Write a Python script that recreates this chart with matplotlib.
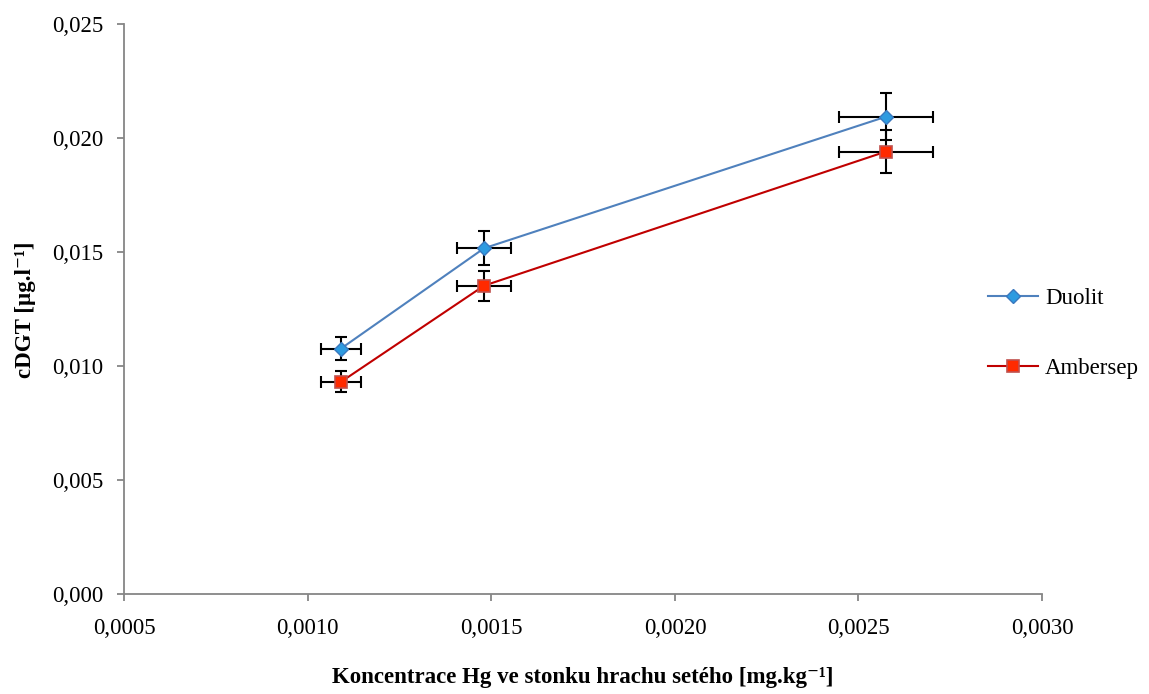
import numpy as np
import matplotlib
matplotlib.use("Agg")
import matplotlib.pyplot as plt

plt.rcParams['font.family'] = ['Liberation Serif', 'DejaVu Serif']

#===== data =====#
hg_conc = [0.00109, 0.00148, 0.002575]      # mg.kg-1
hg_err = [0.0000545, 0.000074, 0.000128]

duolit = [0.01078, 0.01518, 0.02095]         # ug.l-1
duolit_err = [0.00050, 0.00075, 0.00103]

ambersep = [0.00932, 0.01354, 0.01942]
ambersep_err = [0.00046, 0.00066, 0.00094]

xticks = [0.0005, 0.0010, 0.0015, 0.0020, 0.0025, 0.0030]
yticks = [0.000, 0.005, 0.010, 0.015, 0.020, 0.025]

fs = 16.5
axis_col = '#868686'

fig = plt.figure(figsize=(11.49, 6.94), dpi=100)
ax = fig.add_axes([0.1082, 0.1434, 0.7987, 0.8216])

# error bars first, then lines and markers on top
for yv, ye in [(duolit, duolit_err), (ambersep, ambersep_err)]:
    ax.errorbar(hg_conc, yv, xerr=hg_err, yerr=ye, fmt='none', ecolor='black',
                elinewidth=1.5, capsize=4.5, capthick=1.5, zorder=2)

ax.plot(hg_conc, duolit, color='#4F81BD', lw=1.5, marker='D', markersize=7,
        markerfacecolor='#2E9BE0', markeredgecolor='#3A78BE', markeredgewidth=1,
        label='Duolit', zorder=3)
ax.plot(hg_conc, ambersep, color='#C00000', lw=1.5, marker='s', markersize=8,
        markerfacecolor='#FF2A00', markeredgecolor='#C0504D', markeredgewidth=1.2,
        label='Ambersep', zorder=3)

ax.set_xlim(xticks[0], xticks[-1])
ax.set_ylim(yticks[0], yticks[-1])
ax.set_xticks(xticks)
ax.set_yticks(yticks)
ax.set_xticklabels([('%.4f' % v).replace('.', ',') for v in xticks])
ax.set_yticklabels([('%.3f' % v).replace('.', ',') for v in yticks])

for s in ['top', 'right']:
    ax.spines[s].set_visible(False)
for s in ['left', 'bottom']:
    ax.spines[s].set_color(axis_col)
    ax.spines[s].set_linewidth(1.3)
ax.tick_params(axis='both', direction='out', length=5, width=1.3, color=axis_col,
               labelsize=fs, labelcolor='black')
ax.tick_params(axis='x', pad=12)
ax.tick_params(axis='y', pad=10)

ax.set_xlabel('Koncentrace Hg ve stonku hrachu setého [mg.kg⁻¹]',
              fontsize=fs, fontweight='bold', labelpad=20)
ax.set_ylabel('cDGT [µg.l⁻¹]', fontsize=fs, fontweight='bold', labelpad=12)

ax.legend(loc='center left', bbox_to_anchor=(0.941, 0.458), frameon=False,
          fontsize=fs, handlelength=2.2, handletextpad=0.3, labelspacing=2.15,
          borderaxespad=0.0, borderpad=0.0)

fig.savefig('out.png', dpi=100)
